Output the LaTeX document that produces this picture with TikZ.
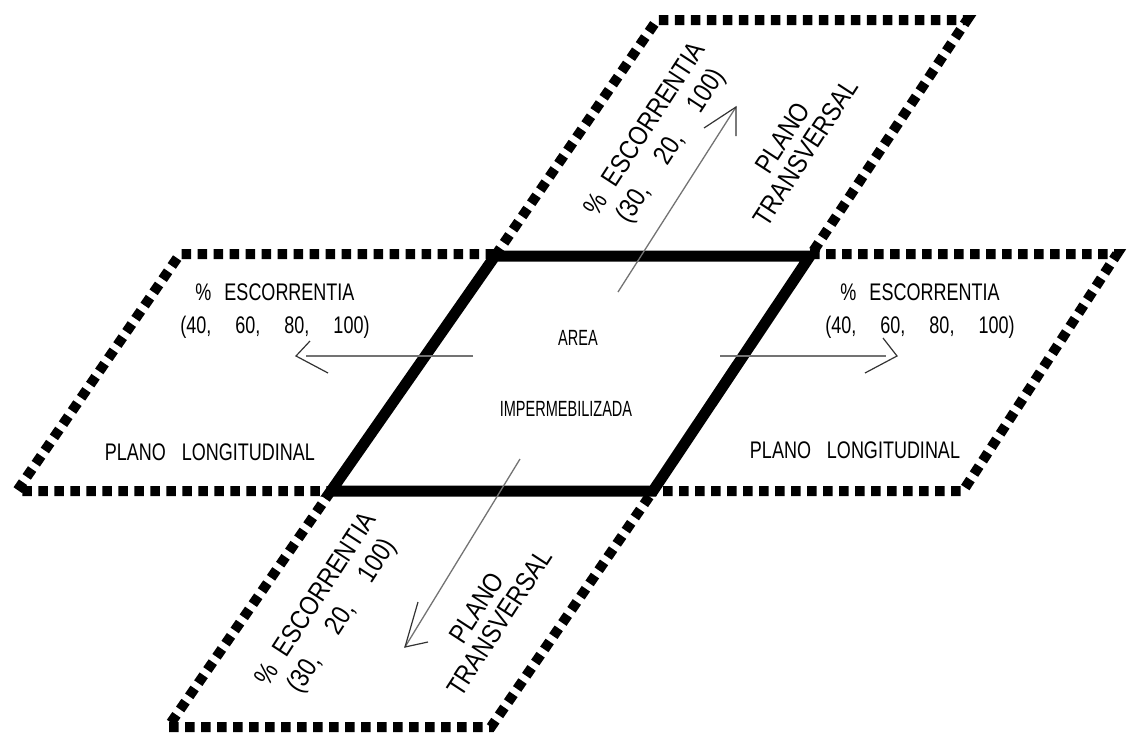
\documentclass[tikz,border=0pt]{standalone}
\usepackage{fontspec}
\newfontfamily\cadfont[FakeStretch=0.75]{Liberation Sans}
\newfontfamily\cadnfont[FakeStretch=0.66]{Liberation Sans}
\newfontfamily\cadwfont[FakeStretch=0.85]{Liberation Sans}
\begin{document}
\begin{tikzpicture}[x=1pt,y=-1pt,
  dashedge/.style={line width=10pt, dash pattern=on 9.5pt off 6.5pt, line join=miter},
  solidedge/.style={line width=11pt, line join=miter},
  flowline/.style={black!55, line width=1.3pt},
  barb/.style={black!80, line width=1.2pt, line join=miter},
  lbl/.style={font=\cadfont\fontsize{24}{33}\selectfont, align=center, inner sep=0pt},
  ctr/.style={font=\cadnfont\fontsize{22}{26}\selectfont, inner sep=0pt},
  rot/.style={font=\cadwfont\fontsize{27}{31}\selectfont, align=center, rotate=57, inner sep=0pt},
  rottight/.style={rot, font=\cadwfont\fontsize{27}{27}\selectfont}]
\useasboundingbox (0,0) rectangle (1127,740);
% central area corners
\coordinate (cTL) at (495,256);
\coordinate (cTR) at (810,256);
\coordinate (cBR) at (653,491);
\coordinate (cBL) at (331,491);
% top transversal
\coordinate (tTL) at (657,20);
\coordinate (tTR) at (967,20);
% bottom transversal
\coordinate (bBL) at (168,727);
\coordinate (bBR) at (491,727);
% left longitudinal
\coordinate (lTR) at (495,254);
\coordinate (lTL) at (180,254);
\coordinate (lBL) at (17,491);
% right longitudinal
\coordinate (rTL) at (810,254);
\coordinate (rTR) at (1117,254);
\coordinate (rBR) at (963,491);

% dashed planes
\draw[dashedge] (lTR) -- (lTL) -- (lBL) -- (cBL);
\draw[dashedge] (rTL) -- (rTR) -- (rBR) -- (cBR);
\draw[dashedge] (cTL) -- (tTL) -- (tTR) -- (cTR);
\draw[dashedge] (cBL) -- (bBL) -- (bBR) -- (cBR);

% central impervious area
\draw[solidedge] (cTL) -- (cTR) -- (cBR) -- (cBL) -- cycle;

% flow arrows
\coordinate (aLs) at (473,356);
\coordinate (aLe) at (306,356);
\coordinate (aLt) at (296,356);
\coordinate (aLu) at (310,341);
\coordinate (aLd) at (328,373);
\draw[flowline] (aLs) -- (aLe);
\draw[barb] (aLu) -- (aLt) -- (aLd);

\coordinate (aRs) at (720,356);
\coordinate (aRe) at (886,356);
\coordinate (aRt) at (897,356);
\coordinate (aRu) at (883,338);
\coordinate (aRd) at (865,373);
\draw[flowline] (aRs) -- (aRe);
\draw[barb] (aRu) -- (aRt) -- (aRd);

\coordinate (aTs) at (618,292);
\coordinate (aTt) at (736,107);
\coordinate (aTl) at (704,128);
\coordinate (aTd) at (736,136);
\draw[flowline] (aTs) -- (aTt);
\draw[barb] (aTl) -- (aTt) -- (aTd);

\coordinate (aBs) at (520,459);
\coordinate (aBt) at (405,647);
\coordinate (aBu) at (418,602);
\coordinate (aBr) at (428,642);
\draw[flowline] (aBs) -- (aBt);
\draw[barb] (aBu) -- (aBt) -- (aBr);

% labels
\node[lbl] (escL) at (275,311) {\%\hspace{13pt}ESCORRENTIA\\(40,\hspace{24pt}60,\hspace{24pt}80,\hspace{24pt}100)};
\node[lbl] (escR) at (920,311) {\%\hspace{13pt}ESCORRENTIA\\(40,\hspace{24pt}60,\hspace{24pt}80,\hspace{24pt}100)};
\node[lbl] (plL) at (210,452) {PLANO\hspace{16pt}LONGITUDINAL};
\node[lbl] (plR) at (855,450) {PLANO\hspace{16pt}LONGITUDINAL};
\node[ctr] (area) at (578,338) {AREA};
\node[ctr] (imp) at (566,409) {IMPERMEBILIZADA};
\node[rot] (escT) at (659,138) {\%\hspace{14pt}ESCORRENTIA\\(30,\hspace{30pt}20,\hspace{30pt}100)};
\node[rottight] (plT) at (794,145) {PLANO\\TRANSVERSAL};
\node[rot] (escB) at (330,608) {\%\hspace{14pt}ESCORRENTIA\\(30,\hspace{30pt}20,\hspace{30pt}100)};
\node[rottight] (plB) at (488,615) {PLANO\\TRANSVERSAL};
\end{tikzpicture}
\end{document}
